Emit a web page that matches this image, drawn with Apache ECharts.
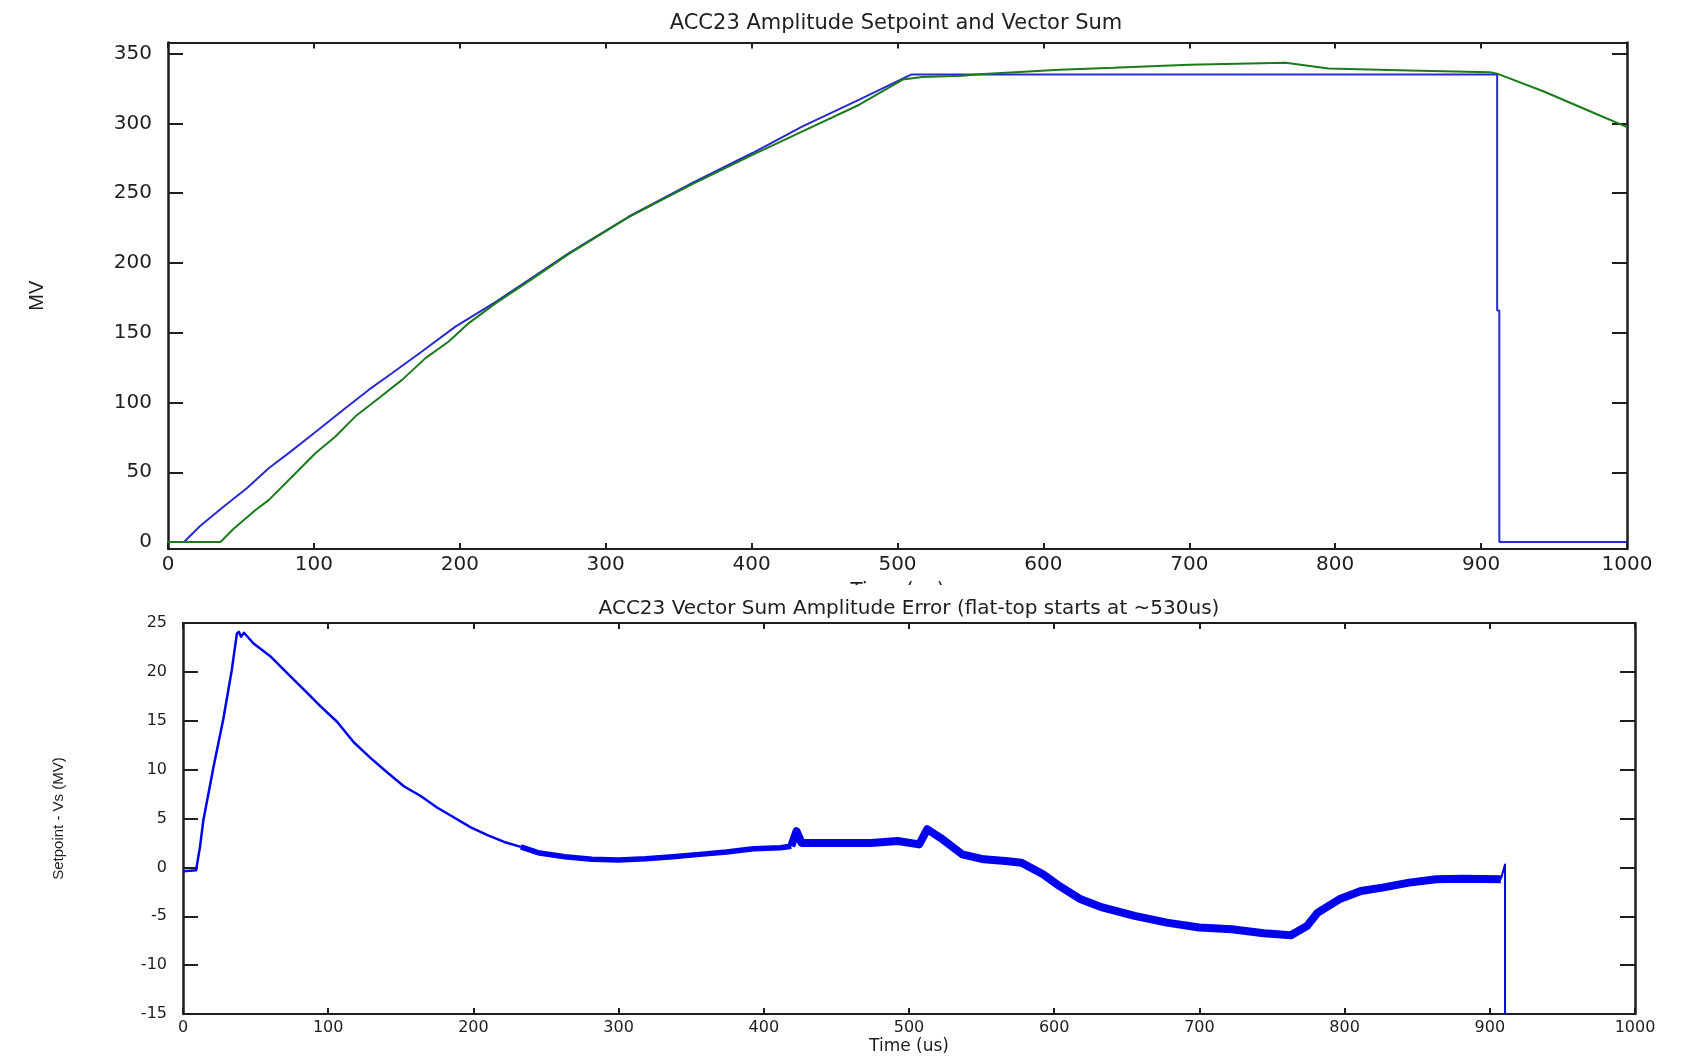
<!DOCTYPE html>
<html>
<head>
<meta charset="utf-8">
<title>ACC23 Amplitude</title>
<script src="https://cdn.jsdelivr.net/npm/echarts@6/dist/echarts.min.js"></script>
<style>
  html, body { margin: 0; padding: 0; background: #fff; }
  #chart { width: 1684px; height: 1056px; }
</style>
</head>
<body>
<div id="chart"></div>
<script>
// top panel: amplitude setpoint and measured vector sum (MV) vs time (us)
const setpointTime = [0, 11, 22, 38, 54, 69, 84, 100, 121.5, 137.5, 153.5, 174, 197, 224.4, 247.4, 274.8, 316, 359.4, 400.6, 434.9, 473.8, 509.3, 911, 911, 912.5, 912.5, 1000]
const setpointValue = [0, 0, 11.5, 25.3, 38.5, 52.9, 64.8, 78.0, 95.9, 109.0, 121.0, 136.5, 154.4, 172, 187.9, 207.1, 233.3, 257.3, 278.8, 297.9, 317.0, 335, 335, 166, 166, 0, 0]

const vsumTime = [0, 36, 45, 60, 69, 85, 101, 114.6, 128.3, 144.4, 160.4, 176.5, 192.4, 206.2, 224.4, 247.4, 274.8, 316, 359.4, 400.6, 434.9, 473.8, 503.6, 517, 544.7, 555.7, 611.2, 648, 699.7, 766, 795.5, 850.8, 906, 911, 943, 979.8, 1000]
const vsumValue = [0, 0, 9.5, 23, 30, 46.8, 63.6, 75.5, 89.9, 103.1, 116.2, 131.8, 143.7, 156.9, 171, 187, 206.5, 233, 256.5, 277.5, 294.3, 313.4, 331.4, 333.3, 334.2, 335.2, 338.5, 339.9, 342.0, 343.5, 339.3, 338.0, 336.6, 335.7, 322.9, 306.4, 297.4]

// bottom panel: setpoint - vector sum (MV)
const errTime = [0, 9, 11.7, 14, 20.9, 27.8, 33.6, 37.1, 38.5, 40, 42, 48.6, 60.1, 71.6, 83.1, 94.6, 106.1, 117.6, 129.1, 140.7, 152.1, 163.7, 175.2, 186.7, 198.2, 209.7, 221.2, 232.7, 244.5, 263, 281.6, 300.1, 318.7, 337.3, 355.8, 374.3, 392.9, 411.4, 418.9, 422.5, 426, 441, 456, 473.7, 492.2, 507, 512.6, 521.9, 536.7, 551.5, 566.4, 577.5, 592.3, 603.5, 618.3, 633.1, 655.4, 677.6, 699.9, 722.2, 744.4, 763, 774.1, 781.5, 796.3, 811.2, 826, 844.5, 863.1, 881.6, 907.6, 910.5, 910.5]
const errValue = [-0.4, -0.3, 2.1, 4.8, 10.2, 15.2, 20.2, 23.9, 24.1, 23.6, 24.0, 22.9, 21.6, 19.9, 18.2, 16.5, 14.9, 12.8, 11.2, 9.7, 8.3, 7.3, 6.1, 5.1, 4.1, 3.3, 2.6, 2.1, 1.5, 1.09, 0.82, 0.75, 0.88, 1.09, 1.33, 1.57, 1.9, 2.0, 2.17, 3.7, 2.5, 2.5, 2.5, 2.5, 2.7, 2.35, 3.9, 3.0, 1.33, 0.82, 0.65, 0.48, -0.71, -1.9, -3.27, -4.1, -4.97, -5.65, -6.15, -6.33, -6.73, -6.94, -5.99, -4.62, -3.27, -2.41, -2.07, -1.56, -1.22, -1.16, -1.22, 0.3, -15]

const ampTicks = [0, 50, 100, 150, 200, 250, 300, 350]

const ink = '#1e1e1e'
const font = 'DejaVu Sans'

function pairs(ts, vs) {
  return ts.map((t, i) => [t, vs[i]])
}

// the error trace gets noisier after ~230us, so draw it as thicker pieces
function errPiece(from, to) {
  return errTime
    .map((t, i) => [t, errValue[i]])
    .filter((p, i) => i >= from && i <= to)
}

const lastIdx = errTime.length - 1
const errSegments = [
  { from: 0, to: errTime.indexOf(232.7), width: 2.5 },
  { from: errTime.indexOf(232.7), to: errTime.indexOf(418.9), width: 5.5 },
  { from: errTime.indexOf(418.9), to: errTime.indexOf(907.6), width: 8 },
  { from: errTime.indexOf(907.6), to: lastIdx, width: 2 },
]

const plain = (v) => String(v)

function timeAxis(grid, pos, labelSize, extra) {
  return Object.assign({
    type: 'value',
    gridIndex: grid,
    position: pos,
    min: 0,
    max: 1000,
    interval: 100,
    axisLine: { show: true, onZero: false, lineStyle: { color: ink, width: 2 } },
    axisTick: { show: true, inside: true, length: 6, lineStyle: { color: ink, width: 2 } },
    axisLabel: { show: pos === 'bottom', color: ink, fontSize: labelSize, fontFamily: font, margin: 6, formatter: plain },
    splitLine: { show: false },
  }, extra || {})
}

function valueAxis(grid, pos, labelSize, extra) {
  return Object.assign({
    type: 'value',
    gridIndex: grid,
    position: pos,
    axisLine: { show: true, onZero: false, lineStyle: { color: ink, width: 2.5 } },
    axisTick: { show: true, inside: true, length: 15, lineStyle: { color: ink, width: 2 } },
    axisLabel: { show: pos === 'left', color: ink, fontSize: labelSize, fontFamily: font, margin: 16, formatter: plain },
    splitLine: { show: false },
  }, extra || {})
}

const chart = echarts.init(document.getElementById('chart'))

const option = {
  animation: false,
  backgroundColor: '#fff',
  title: [
    {
      text: 'ACC23 Amplitude Setpoint and Vector Sum',
      left: 891,
      top: 8,
      textAlign: 'center',
      z: 100,
      textStyle: { color: ink, fontSize: 21, fontWeight: 'normal', fontFamily: font },
    },
    {
      text: 'ACC23 Vector Sum Amplitude Error (flat-top starts at ~530us)',
      left: 904,
      top: 594,
      textAlign: 'center',
      z: 100,
      textStyle: { color: ink, fontSize: 20, fontWeight: 'normal', fontFamily: font },
    },
  ],
  grid: [
    { left: 168, top: 42.5, width: 1459, height: 506.5 },
    { left: 183, top: 623, width: 1452, height: 392 },
  ],
  xAxis: [
    timeAxis(0, 'bottom', 20, {
      name: 'Time (us)',
      nameLocation: 'middle',
      nameGap: 32,
      nameTextStyle: { color: ink, fontSize: 20, fontFamily: font },
    }),
    timeAxis(0, 'top', 20),
    timeAxis(1, 'bottom', 16, {
      name: 'Time (us)',
      nameLocation: 'middle',
      nameGap: 24,
      nameTextStyle: { color: ink, fontSize: 17, fontFamily: font },
    }),
    timeAxis(1, 'top', 16),
  ],
  yAxis: [
    valueAxis(0, 'left', 20, {
      min: -5,
      max: 358,
      axisLabel: { color: ink, fontSize: 20, fontFamily: font, margin: 16, customValues: ampTicks },
      axisTick: { show: true, inside: true, length: 15, customValues: ampTicks, lineStyle: { color: ink, width: 2 } },
      name: 'MV',
      nameLocation: 'middle',
      nameGap: 121,
      nameTextStyle: { color: ink, fontSize: 20, fontFamily: 'Liberation Sans' },
    }),
    valueAxis(0, 'right', 20, {
      min: -5,
      max: 358,
      axisTick: { show: true, inside: true, length: 15, customValues: ampTicks, lineStyle: { color: ink, width: 2 } },
    }),
    valueAxis(1, 'left', 16, {
      min: -15,
      max: 25,
      interval: 5,
      name: 'Setpoint - Vs (MV)',
      nameLocation: 'middle',
      nameGap: 117,
      nameTextStyle: { color: ink, fontSize: 15, fontFamily: 'Liberation Sans' },
    }),
    valueAxis(1, 'right', 16, { min: -15, max: 25, interval: 5 }),
  ],
  // hides the lower part of the upper "Time (us)" label, as in the original figure
  graphic: [
    {
      type: 'rect',
      z: 50,
      shape: { x: 700, y: 585, width: 400, height: 21 },
      style: { fill: '#fff' },
    },
  ],
  series: [
    {
      name: 'Setpoint',
      type: 'line',
      xAxisIndex: 0,
      yAxisIndex: 0,
      data: pairs(setpointTime, setpointValue),
      showSymbol: false,
      lineStyle: { color: '#2a2ad2', width: 2 },
      z: 3,
    },
    {
      name: 'Vector Sum',
      type: 'line',
      xAxisIndex: 0,
      yAxisIndex: 0,
      data: pairs(vsumTime, vsumValue),
      showSymbol: false,
      lineStyle: { color: '#1b7a1b', width: 2 },
      z: 4,
    },
    ...errSegments.map((s) => ({
      name: 'Error',
      type: 'line',
      xAxisIndex: 2,
      yAxisIndex: 2,
      data: errPiece(s.from, s.to),
      showSymbol: false,
      lineStyle: { color: '#0000ee', width: s.width, join: 'round' },
      z: 3,
    })),
  ],
}

chart.setOption(option)
</script>
</body>
</html>
